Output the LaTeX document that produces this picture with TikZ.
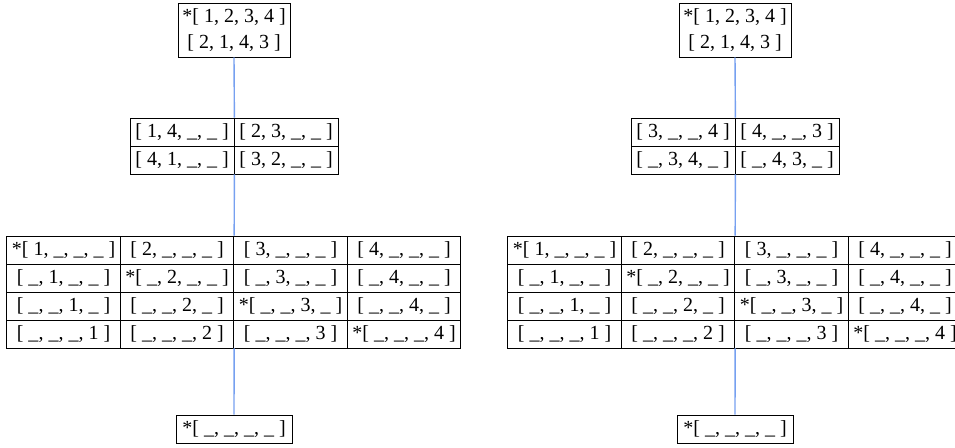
\documentclass[tikz,border=0pt]{standalone}
\usepackage{fontspec}
\setmainfont{Liberation Serif}
\usepackage{xcolor}
\usepackage{tikz}
\definecolor{linkblue}{RGB}{118,160,240}

\begin{document}
\begin{tikzpicture}[x=1pt, y=-1pt,
  box/.style={draw, line width=0.8pt, inner sep=0pt, align=center, font=\fontsize{20}{26}\selectfont},
  cell/.style={box, minimum width=113.5pt, minimum height=28pt},
  half/.style={box, minimum width=104pt, minimum height=28pt},
  link/.style={draw=linkblue, line width=1.4pt}]
\clip (0,0) rectangle (955,447);
% left tree
\node[box, minimum width=112pt, minimum height=54pt] (ltop) at (234,30) {*[ 1, 2, 3, 4 ]\\{}[ 2, 1, 4, 3 ]};
\node[half] (lm11) at (182,132) {[ 1, 4, \_, \_ ]}; \node[half] (lm12) at (286,132) {[ 2, 3, \_, \_ ]};
\node[half] (lm21) at (182,160) {[ 4, 1, \_, \_ ]}; \node[half] (lm22) at (286,160) {[ 3, 2, \_, \_ ]};
\node[cell] (lg11) at (63.5,250) {*[ 1, \_, \_, \_ ]}; \node[cell] (lg12) at (177,250) {[ 2, \_, \_, \_ ]};
\node[cell] (lg13) at (290.5,250) {[ 3, \_, \_, \_ ]}; \node[cell] (lg14) at (404,250) {[ 4, \_, \_, \_ ]};
\node[cell] (lg21) at (63.5,278) {[ \_, 1, \_, \_ ]}; \node[cell] (lg22) at (177,278) {*[ \_, 2, \_, \_ ]};
\node[cell] (lg23) at (290.5,278) {[ \_, 3, \_, \_ ]}; \node[cell] (lg24) at (404,278) {[ \_, 4, \_, \_ ]};
\node[cell] (lg31) at (63.5,306) {[ \_, \_, 1, \_ ]}; \node[cell] (lg32) at (177,306) {[ \_, \_, 2, \_ ]};
\node[cell] (lg33) at (290.5,306) {*[ \_, \_, 3, \_ ]}; \node[cell] (lg34) at (404,306) {[ \_, \_, 4, \_ ]};
\node[cell] (lg41) at (63.5,334) {[ \_, \_, \_, 1 ]}; \node[cell] (lg42) at (177,334) {[ \_, \_, \_, 2 ]};
\node[cell] (lg43) at (290.5,334) {[ \_, \_, \_, 3 ]}; \node[cell] (lg44) at (404,334) {*[ \_, \_, \_, 4 ]};
\node[box, minimum width=116pt, minimum height=28pt] (lbot) at (234,429) {*[ \_, \_, \_, \_ ]};
\draw[link] (ltop.south) -- (lm11.north east);
\draw[link] (lm21.south east) -- (lg12.north east);
\draw[link] (lg42.south east) -- (lbot.north);
% right tree
\node[box, minimum width=112pt, minimum height=54pt] (rtop) at (735,30) {*[ 1, 2, 3, 4 ]\\{}[ 2, 1, 4, 3 ]};
\node[half] (rm11) at (683,132) {[ 3, \_, \_, 4 ]}; \node[half] (rm12) at (787,132) {[ 4, \_, \_, 3 ]};
\node[half] (rm21) at (683,160) {[ \_, 3, 4, \_ ]}; \node[half] (rm22) at (787,160) {[ \_, 4, 3, \_ ]};
\node[cell] (rg11) at (564.5,250) {*[ 1, \_, \_, \_ ]}; \node[cell] (rg12) at (678,250) {[ 2, \_, \_, \_ ]};
\node[cell] (rg13) at (791.5,250) {[ 3, \_, \_, \_ ]}; \node[cell] (rg14) at (905,250) {[ 4, \_, \_, \_ ]};
\node[cell] (rg21) at (564.5,278) {[ \_, 1, \_, \_ ]}; \node[cell] (rg22) at (678,278) {*[ \_, 2, \_, \_ ]};
\node[cell] (rg23) at (791.5,278) {[ \_, 3, \_, \_ ]}; \node[cell] (rg24) at (905,278) {[ \_, 4, \_, \_ ]};
\node[cell] (rg31) at (564.5,306) {[ \_, \_, 1, \_ ]}; \node[cell] (rg32) at (678,306) {[ \_, \_, 2, \_ ]};
\node[cell] (rg33) at (791.5,306) {*[ \_, \_, 3, \_ ]}; \node[cell] (rg34) at (905,306) {[ \_, \_, 4, \_ ]};
\node[cell] (rg41) at (564.5,334) {[ \_, \_, \_, 1 ]}; \node[cell] (rg42) at (678,334) {[ \_, \_, \_, 2 ]};
\node[cell] (rg43) at (791.5,334) {[ \_, \_, \_, 3 ]}; \node[cell] (rg44) at (905,334) {*[ \_, \_, \_, 4 ]};
\node[box, minimum width=116pt, minimum height=28pt] (rbot) at (735,429) {*[ \_, \_, \_, \_ ]};
\draw[link] (rtop.south) -- (rm11.north east);
\draw[link] (rm21.south east) -- (rg12.north east);
\draw[link] (rg42.south east) -- (rbot.north);
\end{tikzpicture}
\end{document}
